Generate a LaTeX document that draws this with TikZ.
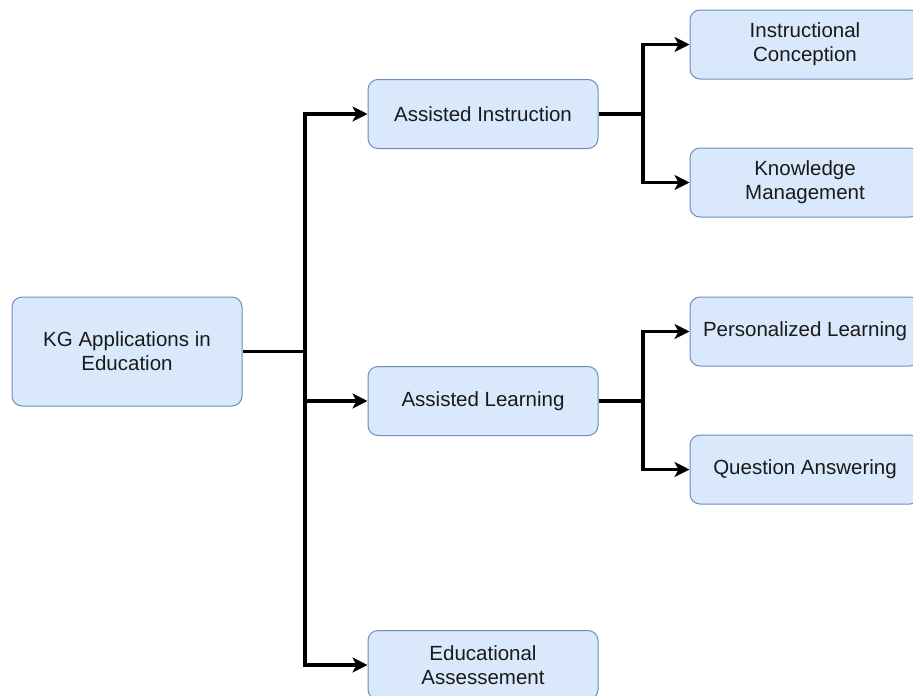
\documentclass[tikz,border=0pt]{standalone}
\usepackage{fontspec}
\setmainfont{Liberation Sans}
\usetikzlibrary{arrows.meta}
\definecolor{boxfill}{HTML}{DAE8FC}
\definecolor{boxline}{HTML}{6C8EBF}
\definecolor{boxtext}{HTML}{1A1A1A}
\begin{document}
\begin{tikzpicture}[x=1pt, y=-1pt,
    appbox/.style={draw=boxline, fill=boxfill, line width=1pt, rounded corners=10pt,
      minimum width=230pt, minimum height=69pt, align=center, text=boxtext,
      font=\fontsize{20.5}{24}\selectfont},
    link/.style={line width=3.2pt, -{Stealth[length=15pt, width=15pt, inset=4pt]}},
    trunk/.style={line width=3.2pt}]
      \useasboundingbox (0,0) rectangle (913,696);
      \clip (0,0) rectangle (913,696);

      % Root
      \node[appbox, minimum height=109pt] (root) at (127, 351.5) {KG Applications in\\Education};

      % Second level
      \node[appbox] (instr) at (483, 114) {Assisted Instruction};
      \node[appbox] (learn) at (483, 401) {Assisted Learning};
      \node[appbox] (assess) at (483, 665) {Educational\\Assessement};

      % Third level
      \node[appbox] (concept) at (805, 44.5) {Instructional\\Conception};
      \node[appbox] (knowmgmt) at (805, 182.5) {Knowledge\\Management};
      \node[appbox] (personal) at (805, 331.5) {Personalized Learning};
      \node[appbox] (qa) at (805, 469.5) {Question Answering};

      % Forks
      \coordinate (fork0) at (305, 351.5);
      \coordinate (fork1) at (643, 114);
      \coordinate (fork2) at (643, 401);

      % Arrows
      \draw[trunk] (root.east) -- (fork0);
      \draw[link] (fork0) |- (instr.west);
      \draw[link] (fork0) |- (learn.west);
      \draw[link] (fork0) |- (assess.west);

      \draw[trunk] (instr.east) -- (fork1);
      \draw[link] (fork1) |- (concept.west);
      \draw[link] (fork1) |- (knowmgmt.west);

      \draw[trunk] (learn.east) -- (fork2);
      \draw[link] (fork2) |- (personal.west);
      \draw[link] (fork2) |- (qa.west);
\end{tikzpicture}
\end{document}
